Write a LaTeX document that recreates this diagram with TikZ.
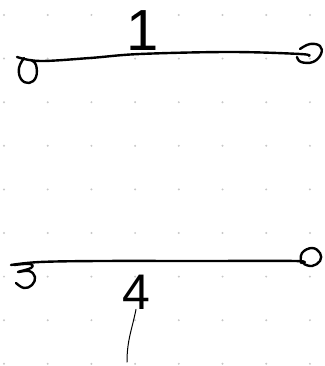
\documentclass[tikz,border=0pt]{standalone}
\usepackage{fontspec}
\setmainfont{Liberation Sans}
\usetikzlibrary{positioning}
\tikzset{
  ink/.style={line width=2.4pt, line cap=round, line join=round},
  tail/.style={line width=1pt, line cap=round},
  griddot/.style={fill=black!22},
  digit/.style={font=\fontsize{50}{50}\selectfont, inner sep=0pt},
}

\begin{document}
\begin{tikzpicture}[x=1pt,y=-1pt]
  \useasboundingbox (0,0) rectangle (324,366);
  % dot grid
  \foreach \i in {0,...,7}
    \foreach \j in {0,...,8}
      \fill[griddot] (4+43.7*\i,15+43.6*\j) circle (1.1pt);

  % upper wire with curls
  \draw[ink] plot[smooth, tension=0.6] coordinates {(17,57) (40,61) (90,58) (140,54) (230,52) (300,54) (309,56)};
  \draw[ink] plot[smooth, tension=0.7] coordinates {(24,58) (19,68) (21,79) (29,83) (36,77) (36,65) (31,60)};
  \draw[ink] plot[smooth, tension=0.7] coordinates {(300,49) (310,44) (320,46) (321,54) (313,62) (301,62) (297,57)};
  \node[digit, font=\fontsize{58}{58}\selectfont] (one) at (143,31) {1};

  % lower wire with curls
  \draw[ink] plot[smooth, tension=0.6] coordinates {(11,265) (40,262) (100,261) (200,261) (295,261) (302,263)};
  \draw[ink] plot[smooth, tension=0.7] coordinates {(14,265) (30,264) (31,268) (18,272) (29,271) (35,277) (32,285) (24,288) (16,283)};
  \draw[ink] plot[smooth, tension=0.7] coordinates {(301,263) (302,253) (312,248) (320,253) (320,261) (312,266) (304,264)};
  \node[digit] (four) at (136,292) {4};
  \coordinate (tailend) at (127,362);
  \draw[tail] (four.south) .. controls ([xshift=-4pt,yshift=-20pt]four.south) and (127,340) .. (tailend);
\end{tikzpicture}
\end{document}
